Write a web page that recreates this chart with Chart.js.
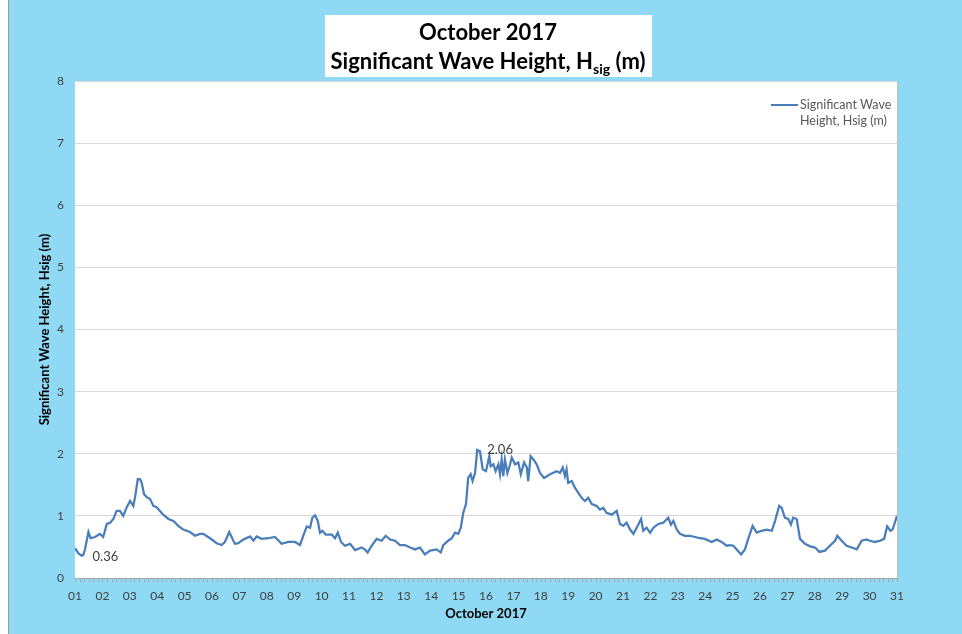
<!DOCTYPE html>
<html>
<head>
<meta charset="utf-8">
<title>October 2017 Significant Wave Height</title>
<script src="https://cdn.jsdelivr.net/npm/chart.js@4.4.1/dist/chart.umd.min.js"></script>
<style>
  html, body { margin: 0; padding: 0; background: #ffffff; }
  canvas { display: block; }
</style>
</head>
<body>
<canvas id="waveChart" width="962" height="634"></canvas>
<script>
// day of month (fractional) and wave height
var days = [
  1.00, 1.12, 1.24, 1.30, 1.36, 1.49, 1.57, 1.73, 1.91, 2.03, 2.16, 2.28, 2.40, 2.52, 2.64, 2.76, 2.89,
  3.01, 3.13, 3.21, 3.29, 3.37, 3.43, 3.52, 3.62, 3.74, 3.86, 3.98, 4.10, 4.22, 4.41, 4.59, 4.77, 4.95,
  5.20, 5.38, 5.56, 5.68, 5.93, 6.17, 6.35, 6.47, 6.63, 6.78, 6.84, 6.96, 7.08, 7.20, 7.39, 7.51, 7.63,
  7.81, 8.05, 8.30, 8.54, 8.78, 9.03, 9.21, 9.33, 9.46, 9.58, 9.66, 9.76, 9.86, 9.94, 10.03, 10.15,
  10.37, 10.49, 10.59, 10.71, 10.85, 11.04, 11.22, 11.46, 11.58, 11.68, 11.83, 12.01, 12.19, 12.34,
  12.50, 12.68, 12.86, 13.04, 13.23, 13.41, 13.59, 13.77, 13.96, 14.20, 14.35, 14.44, 14.62, 14.75,
  14.87, 14.99, 15.08, 15.17, 15.27, 15.35, 15.44, 15.51, 15.60, 15.68, 15.78, 15.88, 16.00, 16.12,
  16.17, 16.27, 16.35, 16.45, 16.51, 16.57, 16.63, 16.69, 16.78, 16.88, 16.94, 17.06, 17.18, 17.27,
  17.39, 17.49, 17.54, 17.63, 17.73, 17.85, 17.97, 18.12, 18.34, 18.58, 18.70, 18.80, 18.88, 18.94,
  19.00, 19.13, 19.25, 19.37, 19.49, 19.61, 19.73, 19.86, 20.04, 20.16, 20.28, 20.40, 20.59, 20.77,
  20.89, 21.01, 21.13, 21.26, 21.38, 21.50, 21.66, 21.74, 21.86, 21.99, 22.11, 22.29, 22.47, 22.65,
  22.75, 22.84, 22.96, 23.08, 23.26, 23.45, 23.63, 23.81, 23.99, 24.24, 24.42, 24.60, 24.78, 24.91,
  25.03, 25.15, 25.31, 25.45, 25.57, 25.73, 25.88, 26.06, 26.24, 26.43, 26.55, 26.70, 26.79, 26.91,
  27.03, 27.13, 27.21, 27.34, 27.46, 27.64, 27.83, 28.01, 28.17, 28.37, 28.55, 28.74, 28.82, 28.98,
  29.16, 29.35, 29.53, 29.71, 29.89, 30.01, 30.19, 30.38, 30.53, 30.64, 30.76, 30.84, 31.00
];
var hsig = [
  0.48, 0.40, 0.36, 0.37, 0.45, 0.74, 0.64, 0.66, 0.71, 0.66, 0.87, 0.89, 0.95, 1.08, 1.08, 1.00, 1.14,
  1.24, 1.16, 1.35, 1.59, 1.59, 1.54, 1.35, 1.30, 1.27, 1.16, 1.14, 1.08, 1.02, 0.95, 0.92, 0.84, 0.78,
  0.74, 0.68, 0.71, 0.71, 0.64, 0.56, 0.53, 0.58, 0.74, 0.60, 0.55, 0.56, 0.60, 0.63, 0.67, 0.60, 0.67,
  0.63, 0.64, 0.66, 0.55, 0.58, 0.58, 0.53, 0.68, 0.83, 0.81, 0.97, 1.01, 0.92, 0.73, 0.76, 0.70,
  0.70, 0.64, 0.73, 0.58, 0.52, 0.55, 0.45, 0.49, 0.46, 0.41, 0.52, 0.63, 0.60, 0.68,
  0.62, 0.60, 0.53, 0.53, 0.49, 0.46, 0.49, 0.38, 0.44, 0.46, 0.41, 0.53, 0.60, 0.64,
  0.73, 0.71, 0.81, 1.05, 1.19, 1.61, 1.67, 1.56, 1.69, 2.06, 2.04, 1.75, 1.72, 1.96,
  1.80, 1.83, 1.72, 1.83, 1.67, 1.91, 1.64, 1.91, 1.69, 1.83, 1.94, 1.83, 1.86, 1.67,
  1.86, 1.78, 1.56, 1.96, 1.91, 1.83, 1.69, 1.61, 1.67, 1.72, 1.69, 1.78, 1.64, 1.75,
  1.53, 1.56, 1.45, 1.37, 1.29, 1.24, 1.29, 1.19, 1.16, 1.10, 1.13, 1.05, 1.02, 1.08,
  0.87, 0.84, 0.89, 0.78, 0.71, 0.81, 0.95, 0.76, 0.81, 0.73, 0.81, 0.87, 0.89, 0.97,
  0.86, 0.92, 0.78, 0.71, 0.68, 0.68, 0.66, 0.64, 0.63, 0.58, 0.62, 0.58, 0.52, 0.53,
  0.52, 0.46, 0.38, 0.46, 0.63, 0.84, 0.73, 0.76, 0.78, 0.76, 0.92, 1.16, 1.13, 0.97,
  0.95, 0.86, 0.97, 0.95, 0.63, 0.55, 0.51, 0.49, 0.42, 0.44, 0.52, 0.60, 0.68, 0.60,
  0.52, 0.49, 0.46, 0.60, 0.62, 0.60, 0.58, 0.60, 0.63, 0.83, 0.76, 0.78, 1.00
];
var dayLabels = ['01','02','03','04','05','06','07','08','09','10','11','12','13','14','15','16',
                 '17','18','19','20','21','22','23','24','25','26','27','28','29','30','31'];
var yMin = 0, yMax = 8, yStep = 1;
var ticksPerDay = 6;

var seriesLabel = 'Significant Wave Height, Hsig (m)';
var legendLines = ['Significant Wave', 'Height, Hsig (m)'];
var titleLine1 = 'October 2017';
var titleLine2 = 'Significant Wave Height, H';
var titleSub = 'sig';
var titleTail = ' (m)';
var xTitle = 'October 2017';

var FONT = 'Lato, "Open Sans", sans-serif';
var bgBlue = '#8fd9f4';
var lineBlue = '#4a7ebb';
var textGrey = '#404040';

var points = days.map(function(d, i) { return { x: d, y: hsig[i] }; });

// backdrop, title box, minor ticks, legend and min/max labels
var decorPlugin = {
    id: 'decor',
    beforeDraw: function(chart) {
        var ctx = chart.ctx, a = chart.chartArea;
        ctx.save();
        ctx.fillStyle = '#ffffff';
        ctx.fillRect(0, 0, chart.width, chart.height);
        ctx.fillStyle = bgBlue;
        ctx.fillRect(8, 0, chart.width - 8, chart.height);
        ctx.strokeStyle = '#9a9a9a';
        ctx.lineWidth = 1;
        ctx.beginPath();
        ctx.moveTo(8.5, 0);
        ctx.lineTo(8.5, chart.height);
        ctx.stroke();
        ctx.fillStyle = '#ffffff';
        ctx.fillRect(a.left, a.top, a.right - a.left, a.bottom - a.top);
        ctx.restore();
    },
    afterDraw: function(chart) {
        var ctx = chart.ctx, a = chart.chartArea;
        var xs = chart.scales.x;
        ctx.save();

        // plot border on the right
        ctx.strokeStyle = '#bfbfbf';
        ctx.lineWidth = 1;
        ctx.beginPath();
        ctx.moveTo(Math.round(a.right) + 0.5, a.top);
        ctx.lineTo(Math.round(a.right) + 0.5, a.bottom);
        ctx.stroke();

        // minor ticks under the x axis
        ctx.strokeStyle = '#a6a6a6';
        ctx.beginPath();
        for (var k = 0; k <= (dayLabels.length - 1) * ticksPerDay; k++) {
            var px = Math.round(xs.getPixelForValue(1 + k / ticksPerDay)) + 0.5;
            ctx.moveTo(px, a.bottom);
            ctx.lineTo(px, a.bottom + 4);
        }
        ctx.stroke();

        // title box
        ctx.fillStyle = '#ffffff';
        ctx.fillRect(325, 15, 327, 62);
        ctx.fillStyle = '#000000';
        ctx.textBaseline = 'middle';
        ctx.textAlign = 'center';
        ctx.font = 'bold 22px ' + FONT;
        ctx.fillText(titleLine1, 488, 33);
        var w2 = ctx.measureText(titleLine2).width;
        ctx.font = 'bold 14px ' + FONT;
        var ws = ctx.measureText(titleSub).width;
        ctx.font = 'bold 22px ' + FONT;
        var wt = ctx.measureText(titleTail).width;
        var sx = 488 - (w2 + ws + wt) / 2;
        ctx.textAlign = 'left';
        ctx.fillText(titleLine2, sx, 62);
        ctx.font = 'bold 14px ' + FONT;
        ctx.fillText(titleSub, sx + w2, 69);
        ctx.font = 'bold 22px ' + FONT;
        ctx.fillText(titleTail, sx + w2 + ws, 62);

        // legend
        ctx.strokeStyle = lineBlue;
        ctx.lineWidth = 2;
        ctx.beginPath();
        ctx.moveTo(771, 105);
        ctx.lineTo(798, 105);
        ctx.stroke();
        ctx.fillStyle = '#595959';
        ctx.font = '12.5px ' + FONT;
        ctx.fillText(legendLines[0], 800, 105);
        ctx.fillText(legendLines[1], 800, 121);

        // min / max value labels
        var meta = chart.getDatasetMeta(0);
        var iMin = 0, iMax = 0;
        hsig.forEach(function(v, i) {
            if (v < hsig[iMin]) iMin = i;
            if (v > hsig[iMax]) iMax = i;
        });
        ctx.fillStyle = textGrey;
        ctx.font = '13px ' + FONT;
        var pMin = meta.data[iMin], pMax = meta.data[iMax];
        ctx.fillText(hsig[iMin].toFixed(2), pMin.x + 11, pMin.y + 1);
        ctx.fillText(hsig[iMax].toFixed(2), pMax.x + 10, pMax.y);
        ctx.restore();
    }
};

var ctx = document.getElementById('waveChart').getContext('2d');
var waveChart = new Chart(ctx, {
    type: 'line',
    data: {
        datasets: [{
            label: seriesLabel,
            data: points,
            borderColor: lineBlue,
            borderWidth: 2.25,
            pointRadius: 0,
            tension: 0,
            fill: false
        }]
    },
    options: {
        responsive: false,
        animation: false,
        devicePixelRatio: 1,
        layout: { padding: { left: 0, right: 65, top: 81, bottom: 0 } },
        plugins: {
            legend: { display: false },
            title: { display: false },
            tooltip: { enabled: false }
        },
        scales: {
            x: {
                type: 'linear',
                min: 1,
                max: 31,
                afterFit: function(s) { s.height = 56; },
                grid: { display: false, drawTicks: false },
                border: { display: true, color: '#a6a6a6' },
                ticks: {
                    stepSize: 1,
                    padding: 11,
                    color: textGrey,
                    font: { family: FONT, size: 12 },
                    maxRotation: 0,
                    autoSkip: false,
                    callback: function(v) { return dayLabels[v - 1]; }
                },
                title: {
                    display: true,
                    text: xTitle,
                    color: '#000000',
                    font: { family: FONT, size: 13, weight: 'bold' },
                    padding: { top: 0, bottom: 12 }
                }
            },
            y: {
                min: yMin,
                max: yMax,
                afterFit: function(s) { s.width = 75; },
                grid: { color: '#d9d9d9', drawTicks: false },
                border: { display: false },
                ticks: {
                    stepSize: yStep,
                    padding: 11,
                    color: textGrey,
                    font: { family: FONT, size: 12 }
                },
                title: {
                    display: true,
                    text: seriesLabel,
                    color: '#000000',
                    font: { family: FONT, size: 13, weight: 'bold' },
                    padding: { top: 37, bottom: 0 }
                }
            }
        }
    },
    plugins: [decorPlugin]
});
</script>
</body>
</html>
